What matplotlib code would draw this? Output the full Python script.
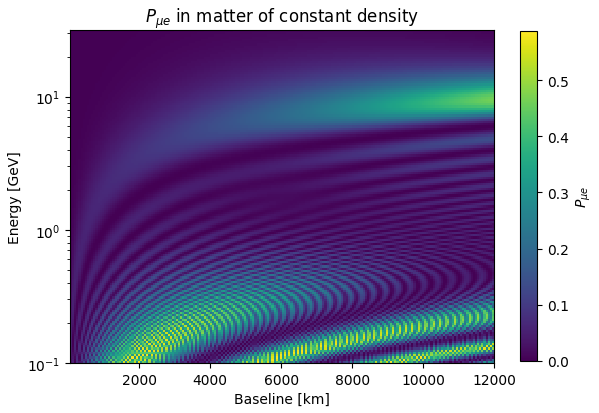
import numpy as np
import matplotlib
matplotlib.use('Agg')
import matplotlib.pyplot as plt

# oscillation parameters (normal ordering)
dm21 = 7.5e-5      # eV^2
dm31 = 2.5e-3      # eV^2
theta12 = np.radians(33.6)
theta13 = np.radians(8.5)
theta23 = np.radians(49.0)
delta_cp = 0.0
rho = 3.0          # g/cm^3
Ye = 0.5

# grid edges
baseline_edges = np.linspace(45, 12000, 201)      # km
energy_edges = np.logspace(-1, 1.5, 151)          # GeV

L = 0.5 * (baseline_edges[1:] + baseline_edges[:-1])
E = np.sqrt(energy_edges[1:] * energy_edges[:-1])


def pmns(t12, t13, t23, d):
    s12, c12 = np.sin(t12), np.cos(t12)
    s13, c13 = np.sin(t13), np.cos(t13)
    s23, c23 = np.sin(t23), np.cos(t23)
    ed = np.exp(-1j * d)
    U = np.array([
        [c12 * c13, s12 * c13, s13 * ed],
        [-s12 * c23 - c12 * s23 * s13 / ed, c12 * c23 - s12 * s23 * s13 / ed, s23 * c13],
        [s12 * s23 - c12 * c23 * s13 / ed, -c12 * s23 - s12 * c23 * s13 / ed, c23 * c13],
    ])
    return U


U = pmns(theta12, theta13, theta23, delta_cp)
M = U @ np.diag([0, dm21, dm31]) @ U.conj().T

# matter potential term 2*sqrt(2)*G_F*N_e*E in eV^2
A = 1.52e-4 * Ye * rho * E
H = np.repeat(M[None, :, :], len(E), axis=0).astype(complex)
H[:, 0, 0] += A
lam, V = np.linalg.eigh(H)

# amplitude nu_mu -> nu_e
phase = np.exp(-1j * 2.534 * lam[:, None, :] * L[None, :, None] / E[:, None, None])
coef = V[:, 0, :] * V[:, 1, :].conj()
amp = np.sum(coef[:, None, :] * phase, axis=2)
P = np.abs(amp) ** 2

fig = plt.figure(figsize=(5.99, 4.14), dpi=100)
ax = fig.add_axes([70 / 599, 50 / 414, 424 / 599, 333 / 414])
cax = fig.add_axes([520 / 599, 52 / 414, 17 / 599, 330 / 414])

mesh = ax.pcolormesh(baseline_edges, energy_edges, P, cmap='viridis',
                     shading='flat', vmin=0)
ax.set_yscale('log')
ax.set_xlim(baseline_edges[0], baseline_edges[-1])
ax.set_ylim(energy_edges[0], energy_edges[-1])
ax.set_xlabel('Baseline [km]')
ax.set_ylabel('Energy [GeV]')
ax.set_title(r'$P_{\mu e}$ in matter of constant density')

cb = fig.colorbar(mesh, cax=cax)
cb.set_label(r'$P_{\mu e}$')

fig.savefig('out.png', dpi=100)
